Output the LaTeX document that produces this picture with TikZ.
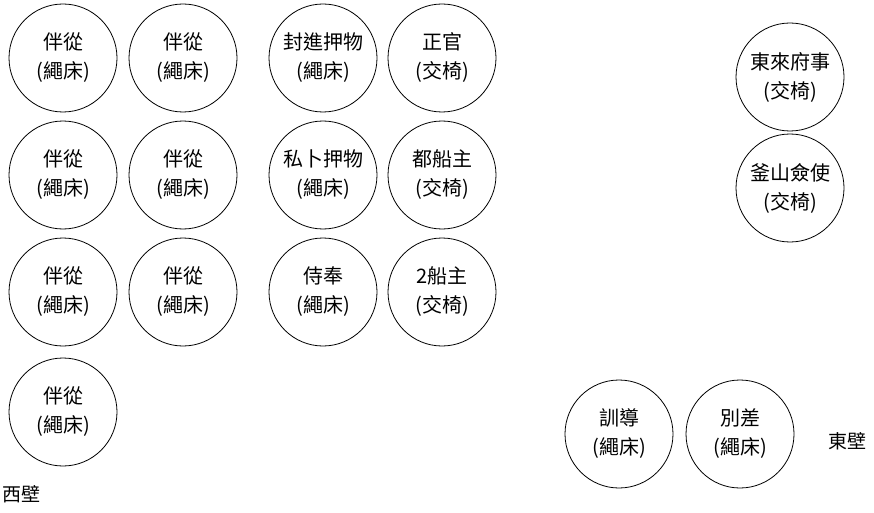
\documentclass[tikz,border=0pt]{standalone}
\usepackage{fontspec}
\newfontfamily\cjk{Noto Sans CJK TC}
\begin{document}
\begin{tikzpicture}[x=1pt,y=-1pt,
  seat/.style={draw, circle, line width=0.8pt, minimum size=108pt, inner sep=0pt,
    align=center, font=\cjk\fontsize{20}{29}\selectfont},
  wall/.style={font=\cjk\fontsize{19}{24}\selectfont, inner sep=0pt}]
\useasboundingbox (0,0) rectangle (874,513);
% column 1
\node[seat] (a1) at (63,58) {伴從\\(繩床)};
\node[seat] (a2) at (63,175) {伴從\\(繩床)};
\node[seat] (a3) at (63,292) {伴從\\(繩床)};
\node[seat] (a4) at (63,412) {伴從\\(繩床)};
% column 2
\node[seat] (b1) at (183,58) {伴從\\(繩床)};
\node[seat] (b2) at (183,175) {伴從\\(繩床)};
\node[seat] (b3) at (183,292) {伴從\\(繩床)};
% column 3
\node[seat] (c1) at (323,58) {封進押物\\(繩床)};
\node[seat] (c2) at (323,175) {私卜押物\\(繩床)};
\node[seat] (c3) at (323,292) {侍奉\\(繩床)};
% column 4
\node[seat] (d1) at (442,58) {正官\\(交椅)};
\node[seat] (d2) at (442,175) {都船主\\(交椅)};
\node[seat] (d3) at (442,292) {2船主\\(交椅)};
% right
\node[seat] (e1) at (790,77) {東來府事\\(交椅)};
\node[seat] (e2) at (790,188) {釜山僉使\\(交椅)};
% bottom right
\node[seat] (f1) at (619,434) {訓導\\(繩床)};
\node[seat] (f2) at (740,434) {別差\\(繩床)};
% walls
\node[wall] (east) at (847,441) {東壁};
\node[wall] (west) at (21,494) {西壁};
\end{tikzpicture}
\end{document}
